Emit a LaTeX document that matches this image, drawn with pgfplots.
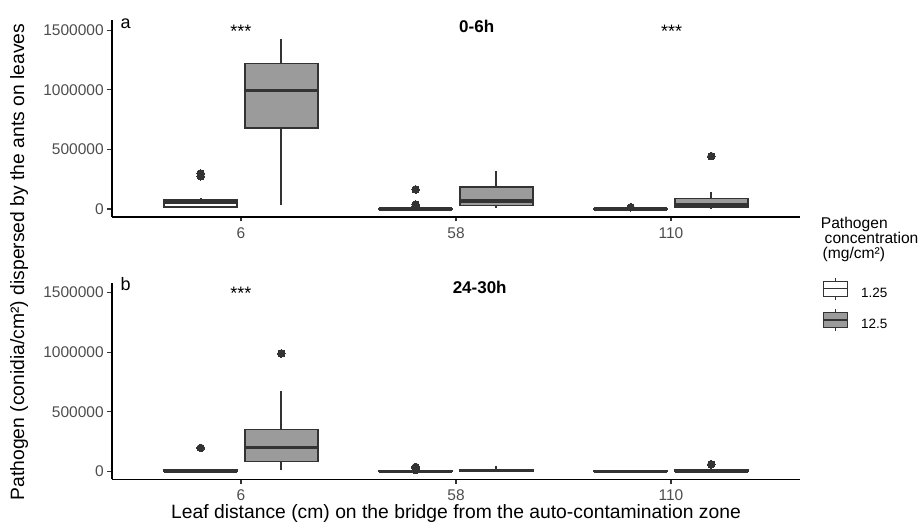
\documentclass[border=0pt]{standalone}
\usepackage{fontspec}
\setmainfont{Liberation Sans}
\usepackage{pgfplots}
\pgfplotsset{compat=1.18}
\usepgfplotslibrary{statistics}
\definecolor{c333}{RGB}{51,51,51}
\definecolor{c4d}{RGB}{77,77,77}
\definecolor{boxgrey}{RGB}{155,155,155}

\pgfplotsset{
 myax/.style={
  scale only axis, width=688pt, height=197pt,
  xmin=0.4, xmax=3.6, ymin=-67000, ymax=1585000,
  axis x line*=bottom, axis y line*=left,
  axis line style={line width=1.1pt, black},
  tick align=outside, major tick length=4.5pt,
  tick style={line width=1.1pt, color=c333},
  xtick={1,2,3}, xticklabels={6,58,110},
  ytick={0,500000,1000000,1500000},
  yticklabels={0,500000,1000000,1500000},
  scaled y ticks=false, scaled x ticks=false,
  ticklabel style={font=\fontsize{15.5}{18}\selectfont, color=c4d, inner sep=0pt},
  xticklabel style={anchor=base, yshift=-16.8pt},
  yticklabel style={anchor=east, xshift=-3.6pt},
  clip=false,
 },
 bp/.style={forget plot, draw=c333, line width=1.5pt, mark=*, mark size=3.8pt,
   mark options={fill=c333, draw=c333, line width=0pt, solid},
   boxplot/draw direction=y,
   boxplot/box extend=0.34, boxplot/whisker extend=0,
   boxplot/every whisker/.style={line width=2pt, draw=c333},
   boxplot/every box/.style={line width=1.5pt, draw=c333},
   boxplot/every median/.style={line width=3.6pt, draw=c333}},
 lo/.style={bp, fill=white},
 hi/.style={bp, fill=boxgrey},
}

\begin{document}
\begin{tikzpicture}
\path[use as bounding box] (0pt,0pt) rectangle (921pt,525pt);

% ---------------- panel a : 0-6h ----------------
\begin{axis}[myax, at={(112pt,308pt)}, anchor=south west]
\addplot[lo, boxplot prepared={draw position=0.8125, lower whisker=10000, lower quartile=18500, median=57000, upper quartile=79700, upper whisker=94000}] coordinates {(0,275000) (0,298000)};
\addplot[hi, boxplot prepared={draw position=1.1875, lower whisker=37700, lower quartile=681000, median=994000, upper quartile=1220600, upper whisker=1422000}] coordinates {};
\addplot[lo, boxplot prepared={draw position=1.8125, lower whisker=0, lower quartile=0, median=1000, upper quartile=3000, upper whisker=5000}] coordinates {(0,25000) (0,38000) (0,164000)};
\addplot[hi, boxplot prepared={draw position=2.1875, lower whisker=10000, lower quartile=29000, median=65000, upper quartile=186000, upper whisker=315000}] coordinates {};
\addplot[lo, boxplot prepared={draw position=2.8125, lower whisker=0, lower quartile=0, median=500, upper quartile=2000, upper whisker=4000}] coordinates {(0,15000)};
\addplot[hi, boxplot prepared={draw position=3.1875, lower whisker=0, lower quartile=15000, median=35000, upper quartile=88000, upper whisker=141000}] coordinates {(0,443000)};
\end{axis}

% ---------------- panel b : 24-30h ----------------
\begin{axis}[myax, at={(112pt,45.5pt)}, anchor=south west,
  legend style={at={(axis description cs:1.033,1.028)}, anchor=north west,
    draw=none, fill=none, inner sep=0pt, outer sep=0pt,
    row sep=7.4pt, column sep=13.3pt,
    font=\fontsize{13.5}{16}\selectfont, nodes={inner sep=0pt, text=black}},
  legend cell align=left]
\addplot[lo, boxplot prepared={draw position=0.8125, lower whisker=0, lower quartile=0, median=5000, upper quartile=12000, upper whisker=25000}] coordinates {(0,198000)};
\addplot[hi, boxplot prepared={draw position=1.1875, lower whisker=11000, lower quartile=86000, median=201000, upper quartile=352000, upper whisker=676000}] coordinates {(0,990000)};
\addplot[lo, boxplot prepared={draw position=1.8125, lower whisker=0, lower quartile=0, median=1000, upper quartile=4000, upper whisker=8000}] coordinates {(0,12000) (0,25000) (0,38000)};
\addplot[hi, boxplot prepared={draw position=2.1875, lower whisker=0, lower quartile=2000, median=8000, upper quartile=18000, upper whisker=44000}] coordinates {};
\addplot[lo, boxplot prepared={draw position=2.8125, lower whisker=0, lower quartile=0, median=1000, upper quartile=4000, upper whisker=8000}] coordinates {};
\addplot[hi, boxplot prepared={draw position=3.1875, lower whisker=0, lower quartile=2000, median=6000, upper quartile=15000, upper whisker=30000}] coordinates {(0,61000)};

\addlegendimage{legend image code/.code={
  \draw[c333, line width=1.2pt, fill=white] (0pt,-2.7pt) rectangle (24pt,12.3pt);
  \draw[c333, line width=1.2pt] (0pt,4.8pt) -- (24pt,4.8pt);
  \draw[c333, line width=1.2pt] (12pt,12.3pt) -- (12pt,16.1pt) (12pt,-2.7pt) -- (12pt,-6.5pt);
}}
\addlegendentry{1.25}
\addlegendimage{legend image code/.code={
  \draw[c333, line width=1.2pt, fill=boxgrey] (0pt,-2.7pt) rectangle (24pt,12.3pt);
  \draw[c333, line width=1.2pt] (0pt,4.8pt) -- (24pt,4.8pt);
  \draw[c333, line width=1.2pt] (12pt,12.3pt) -- (12pt,16.1pt) (12pt,-2.7pt) -- (12pt,-6.5pt);
}}
\addlegendentry{12.5}
\end{axis}

% ---------------- annotations ----------------
\node[anchor=base west, inner sep=0pt, font=\fontsize{18}{20}\selectfont] at (120.5pt,496.5pt) {a};
\node[anchor=base west, inner sep=0pt, font=\fontsize{18}{20}\selectfont] at (120.5pt,234pt) {b};
\node[anchor=base, inner sep=0pt, font=\fontsize{18}{20}\selectfont] at (241pt,487.8pt) {***};
\node[anchor=base, inner sep=0pt, font=\fontsize{18}{20}\selectfont] at (671.7pt,487.8pt) {***};
\node[anchor=base, inner sep=0pt, font=\fontsize{18}{20}\selectfont] at (241pt,225.2pt) {***};
\node[anchor=base, inner sep=0pt, font=\bfseries\fontsize{17}{20}\selectfont] at (476.7pt,492.2pt) {0-6h};
\node[anchor=base, inner sep=0pt, font=\bfseries\fontsize{17}{20}\selectfont] at (479.7pt,231.6pt) {24-30h};

% axis titles
\node[anchor=base, inner sep=0pt, font=\fontsize{19.3}{22}\selectfont] at (456pt,6.5pt) {Leaf distance (cm) on the bridge from the auto-contamination zone};
\node[anchor=base, rotate=90, inner sep=0pt, font=\fontsize{19.3}{22}\selectfont] at (24pt,263pt) {Pathogen (conidia/cm²) dispersed by the ants on leaves};

% legend title
\node[anchor=base west, inner sep=0pt, font=\fontsize{15.6}{18}\selectfont] at (820.7pt,296.7pt) {Pathogen};
\node[anchor=base west, inner sep=0pt, font=\fontsize{15.6}{18}\selectfont] at (824.5pt,281.5pt) {concentration};
\node[anchor=base west, inner sep=0pt, font=\fontsize{15.6}{18}\selectfont] at (822.5pt,266.3pt) {(mg/cm²)};
\end{tikzpicture}
\end{document}
